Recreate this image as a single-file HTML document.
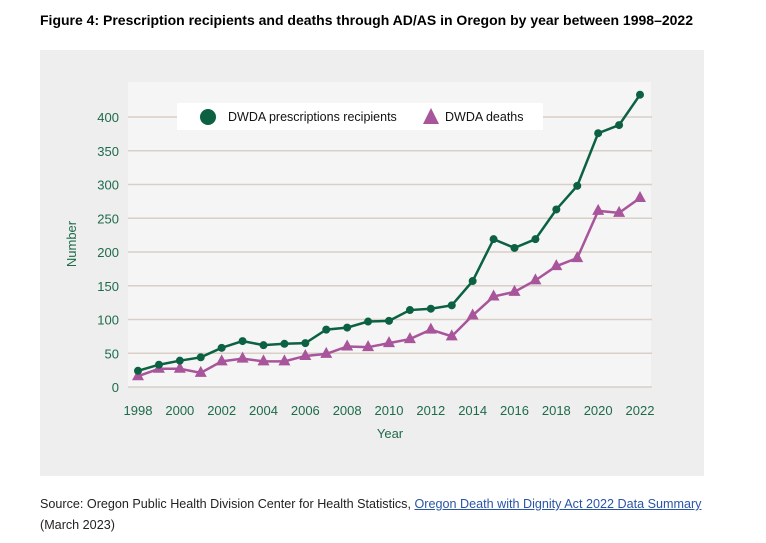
<!DOCTYPE html>
<html><head><meta charset="utf-8"><style>
body{margin:0;width:766px;height:543px;background:#fff;font-family:"Liberation Sans",sans-serif;overflow:hidden;position:relative}
.t{position:absolute;left:40px;top:12px;font-size:14px;font-weight:bold;color:#000;white-space:nowrap}
.src{position:absolute;left:40px;top:494px;font-size:12.6px;color:#222;line-height:21px;white-space:nowrap}
.src a{color:#2a55a5;text-decoration:underline}
</style></head><body>
<div class="t">Figure 4: Prescription recipients and deaths through AD/AS in Oregon by year between 1998–2022</div>
<svg id="c" width="766" height="543" style="position:absolute;left:0;top:0"></svg>
<div class="src">Source: Oregon Public Health Division Center for Health Statistics, <a>Oregon Death with Dignity Act 2022 Data Summary</a><br>(March 2023)</div>
<script>
const years=[1998,1999,2000,2001,2002,2003,2004,2005,2006,2007,2008,2009,2010,2011,2012,2013,2014,2015,2016,2017,2018,2019,2020,2021,2022];
const recipients=[24,33,39,44,58,68,62,64,65,85,88,97,98,114,116,121,157,219,206,219,263,298,376,388,433];
const deaths=[16,27,27,21,38,42,38,38,46,49,60,59,65,71,85,75,106,134,141,158,179,191,261,258,280];
const yTicks=[0,50,100,150,200,250,300,350,400];
const xTicks=[1998,2000,2002,2004,2006,2008,2010,2012,2014,2016,2018,2020,2022];
const NS="http://www.w3.org/2000/svg",svg=document.getElementById('c');
function el(t,a,p){const e=document.createElementNS(NS,t);for(const k in a)e.setAttribute(k,a[k]);(p||svg).appendChild(e);return e;}
const X=y=>138+(y-1998)*(640-138)/24, Y=v=>387-v*0.675;
let r=el('rect',{x:40,y:50,width:664,height:426,fill:'#eeeeee'});

r=el('rect',{x:128,y:82,width:523,height:305,fill:'#f5f5f5'});

yTicks.forEach(v=>{
 let g=el('line',{x1:128,x2:652,y1:Y(v),y2:Y(v),stroke:'#d9cfc7','stroke-width':1.5});
 
 let t=el('text',{x:119,y:Y(v)+5,'text-anchor':'end','font-size':13,fill:'#1d6b4a'});t.textContent=v;
 
});
xTicks.forEach(v=>{
 let t=el('text',{x:X(v),y:415,'text-anchor':'middle','font-size':13,fill:'#1d6b4a'});t.textContent=v;
 
});
let t=el('text',{x:390,y:438,'text-anchor':'middle','font-size':13,fill:'#1d6b4a'});t.textContent='Year';

t=el('text',{x:76,y:244,'text-anchor':'middle','font-size':13,fill:'#1d6b4a',transform:'rotate(-90 76 244)'});t.textContent='Number';

let p=el('polyline',{points:years.map((y,i)=>X(y)+','+Y(deaths[i])).join(' '),fill:'none',stroke:'#a8559b','stroke-width':2.5});

years.forEach((y,i)=>{const x=X(y),yy=Y(deaths[i]);
 let m=el('polygon',{points:`${x},${yy-7} ${x-6},${yy+4} ${x+6},${yy+4}`,fill:'#a8559b'});
 });
p=el('polyline',{points:years.map((y,i)=>X(y)+','+Y(recipients[i])).join(' '),fill:'none',stroke:'#0b6141','stroke-width':2.5});

years.forEach((y,i)=>{
 let m=el('circle',{cx:X(y),cy:Y(recipients[i]),r:4,fill:'#0b6141'});
 });
const lg=el('g',{});
el('rect',{x:177,y:103,width:366,height:27,fill:'#fff'},lg);
let c=el('circle',{cx:208,cy:117,r:8,fill:'#0b6141'},lg);
t=el('text',{x:228,y:121,'font-size':12.5,fill:'#111'},lg);t.textContent='DWDA prescriptions recipients';

c=el('polygon',{points:'431,108 423,124 439,124',fill:'#a8559b'},lg);
t=el('text',{x:445,y:121,'font-size':12.5,fill:'#111'},lg);t.textContent='DWDA deaths';

</script>
</body></html>
